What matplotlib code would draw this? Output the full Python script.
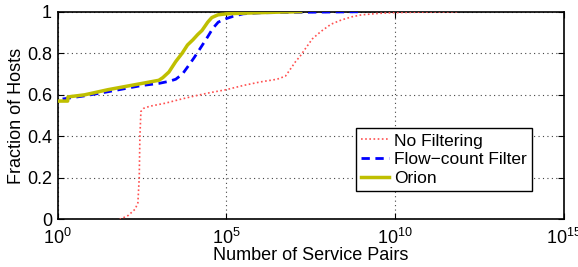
import matplotlib
matplotlib.use("Agg")
import matplotlib.pyplot as plt
import numpy as np

plt.rcParams['font.family'] = ['Liberation Sans', 'DejaVu Sans']
plt.rcParams['mathtext.fontset'] = 'custom'
plt.rcParams['mathtext.rm'] = 'Liberation Sans'

# log10(number of service pairs), fraction of hosts
nofilt_logx = [1.84, 2.1, 2.3, 2.38, 2.42, 2.44, 2.47, 2.55, 2.73, 3.2, 3.6, 4.07, 4.5, 5.0, 5.5,
               6.0, 6.5, 6.75, 6.88, 7.05, 7.18, 7.33, 7.55, 7.8, 8.1, 8.4, 8.7, 9.0, 9.5, 10.0, 11.0, 11.9]
nofilt_y = [0.0, 0.02, 0.05, 0.08, 0.2, 0.4, 0.52, 0.535, 0.545, 0.56, 0.577, 0.595, 0.61, 0.625, 0.645,
            0.662, 0.675, 0.69, 0.72, 0.76, 0.785, 0.82, 0.87, 0.905, 0.94, 0.96, 0.975, 0.985, 0.992, 0.996, 0.999, 1.0]

flow_logx = [0.15, 0.8, 1.5, 2.0, 2.5, 3.0, 3.3, 3.5, 3.7, 3.9, 4.05, 4.2, 4.45, 4.6, 4.76, 5.0, 5.2,
             5.5, 6.0, 7.0, 9.0]
flow_y = [0.58, 0.595, 0.615, 0.63, 0.645, 0.655, 0.665, 0.675, 0.70, 0.745, 0.78, 0.817, 0.88, 0.92,
          0.95, 0.967, 0.978, 0.99, 0.995, 0.997, 1.0]

orion_logx = [0.0, 0.3, 0.31, 0.8, 1.5, 2.0, 2.5, 3.0, 3.12, 3.3, 3.5, 3.69, 3.85, 4.01, 4.15, 4.28,
              4.45, 4.57, 4.75, 5.0, 5.5, 6.5, 7.2]
orion_y = [0.57, 0.57, 0.59, 0.60, 0.625, 0.64, 0.655, 0.67, 0.683, 0.71, 0.76, 0.80, 0.84, 0.865,
           0.89, 0.91, 0.95, 0.972, 0.985, 0.99, 0.993, 0.998, 1.0]

xticks = [1e0, 1e5, 1e10, 1e15]
xticklabels = ['$10^{0}$', '$10^{5}$', '$10^{10}$', '$10^{15}$']
yticks = [0, 0.2, 0.4, 0.6, 0.8, 1.0]
yticklabels = ['0', '0.2', '0.4', '0.6', '0.8', '1']

fig = plt.figure(figsize=(5.78, 2.67), dpi=100)
ax = fig.add_axes([0.0995, 0.178, 0.8763, 0.778])

ax.plot(10 ** np.array(nofilt_logx), nofilt_y, color='#ff5050', lw=1.2, ls=(0, (1, 1.5)),
        label='No Filtering', zorder=3)
ax.plot(10 ** np.array(flow_logx), flow_y, color='#0000ff', lw=2, ls=(0, (3, 2)),
        label='Flow\u2212count Filter', zorder=4)
ax.plot(10 ** np.array(orion_logx), orion_y, color='#bfbf00', lw=2.5, ls='-',
        label='Orion', zorder=5)

ax.set_xscale('log')
ax.set_xlim(1, 1e15)
ax.set_ylim(0, 1)
ax.set_xticks(xticks)
ax.set_xticklabels(xticklabels)
ax.xaxis.set_minor_locator(matplotlib.ticker.NullLocator())
ax.set_yticks(yticks)
ax.set_yticklabels(yticklabels)
ax.tick_params(direction='in', top=True, right=True, length=4, width=0.8, labelsize=13)
ax.tick_params(axis='x', pad=6)
ax.tick_params(axis='y', pad=4)
ax.grid(True, ls=(0, (1, 3)), color='#444444', lw=0.8)
for s in ax.spines.values():
    s.set_linewidth(1.2)

ax.set_xlabel('Number of Service Pairs', fontsize=13, labelpad=-1)
ax.set_ylabel('Fraction of Hosts', fontsize=13, labelpad=1)

leg = ax.legend(loc='lower right', bbox_to_anchor=(0.937, 0.137), fontsize=12.5, frameon=True,
                fancybox=False, edgecolor='black', framealpha=1, borderpad=0.3, labelspacing=0.2,
                handlelength=1.6, handletextpad=0.3, borderaxespad=0)
leg.get_frame().set_linewidth(1.0)

fig.savefig('out.png', dpi=100)
